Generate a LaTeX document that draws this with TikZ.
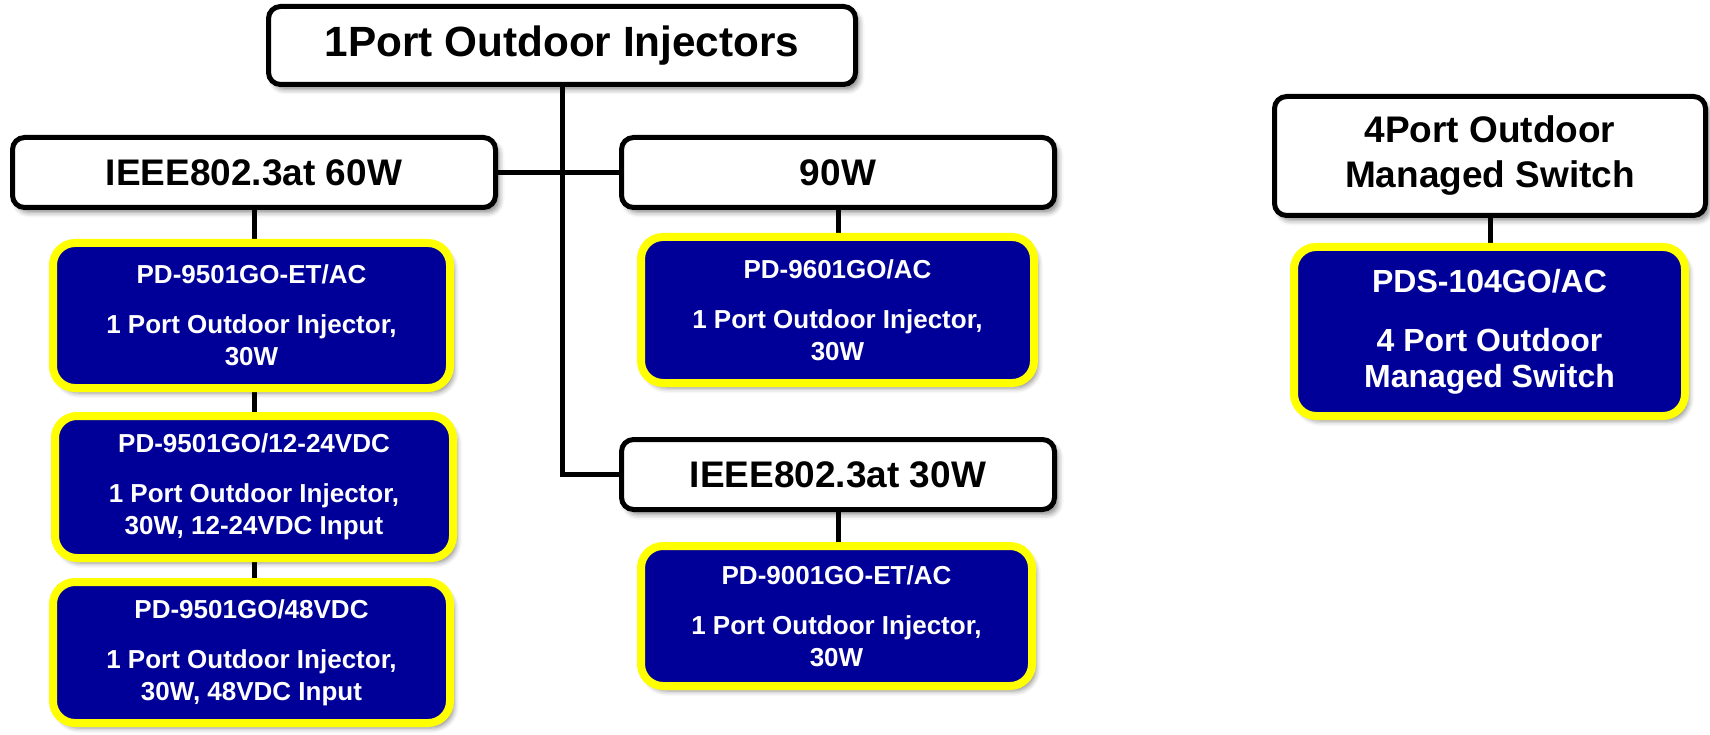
\documentclass[tikz,border=0pt]{standalone}
\usepackage{fontspec}
\setmainfont{Liberation Sans}
\usetikzlibrary{shadows.blur}
\definecolor{pblue}{RGB}{0,0,153}
\definecolor{pyellow}{RGB}{255,255,0}
\pgfdeclarelayer{background}
\pgfsetlayers{background,main}
\begin{document}
\begin{tikzpicture}[x=1pt,y=-1pt,
  wbox/.style={draw=black, line width=5pt, fill=white, rounded corners=12pt,
    inner sep=0pt, align=center,
    blur shadow={shadow xshift=4pt, shadow yshift=-5pt, shadow blur radius=5pt, shadow opacity=45}},
  ybox/.style={draw=pyellow, line width=8pt, fill=pblue, text=white, rounded corners=22pt,
    inner sep=0pt, align=center,
    blur shadow={shadow xshift=4pt, shadow yshift=-5pt, shadow blur radius=5pt, shadow opacity=45}},
  bfont/.style={font=\bfseries\fontsize{26}{32}\selectfont},
  link/.style={line width=5pt, draw=black}]
\useasboundingbox (0,0) rectangle (1710,735);

% white group boxes
\node[wbox, minimum width=587pt, minimum height=78pt, font=\bfseries\fontsize{42.3}{50}\selectfont]
  (top) at (562,45.5) {1Port Outdoor Injectors};
\node[wbox, minimum width=483pt, minimum height=70pt, font=\bfseries\fontsize{37}{44}\selectfont]
  (g60) at (254,172.5) {IEEE802.3at 60W};
\node[wbox, minimum width=433pt, minimum height=70pt, font=\bfseries\fontsize{37}{44}\selectfont]
  (g90) at (838,172.5) {90W};
\node[wbox, minimum width=433pt, minimum height=70pt, font=\bfseries\fontsize{37}{44}\selectfont]
  (g30) at (838,474.5) {IEEE802.3at 30W};
\node[wbox, minimum width=431pt, minimum height=119pt, font=\bfseries\fontsize{37}{45}\selectfont]
  (sw) at (1490,156) {4Port Outdoor\\Managed Switch};

% product boxes
\node[ybox, bfont, minimum width=397pt, minimum height=145pt] (b1) at (251.5,315.5)
  {PD-9501GO-ET/AC\\[18pt]1 Port Outdoor Injector,\\30W};
\node[ybox, bfont, minimum width=398pt, minimum height=142pt] (b2) at (254,487)
  {PD-9501GO/12-24VDC\\[18pt]1 Port Outdoor Injector,\\30W, 12-24VDC Input};
\node[ybox, bfont, minimum width=397pt, minimum height=141pt] (b3) at (251.5,652.5)
  {PD-9501GO/48VDC\\[18pt]1 Port Outdoor Injector,\\30W, 48VDC Input};
\node[ybox, bfont, minimum width=393pt, minimum height=146pt] (b4) at (837.5,310)
  {PD-9601GO/AC\\[18pt]1 Port Outdoor Injector,\\30W};
\node[ybox, bfont, minimum width=391pt, minimum height=140pt] (b5) at (836.5,616)
  {PD-9001GO-ET/AC\\[18pt]1 Port Outdoor Injector,\\30W};
\node[ybox, font=\bfseries\fontsize{32}{36}\selectfont, minimum width=391pt, minimum height=169pt] (b6) at (1489.5,331.5)
  {PDS-104GO/AC\\[23pt]4 Port Outdoor\\Managed Switch};

% connectors
\begin{pgfonlayer}{background}
\draw[link] (top.south) -- (top.south |- g30.west) -- (g30.west);
\draw[link] (g60.east) -- (g90.west);
\draw[link] (g60.south) -- (g60.south |- b1.north);
\draw[link] (g60.south |- b1.south) -- (g60.south |- b2.north);
\draw[link] (g60.south |- b2.south) -- (g60.south |- b3.north);
\draw[link] (g90.south) -- (g90.south |- b4.north);
\draw[link] (g30.south) -- (g30.south |- b5.north);
\draw[link] (sw.south) -- (sw.south |- b6.north);
\end{pgfonlayer}
\end{tikzpicture}
\end{document}
